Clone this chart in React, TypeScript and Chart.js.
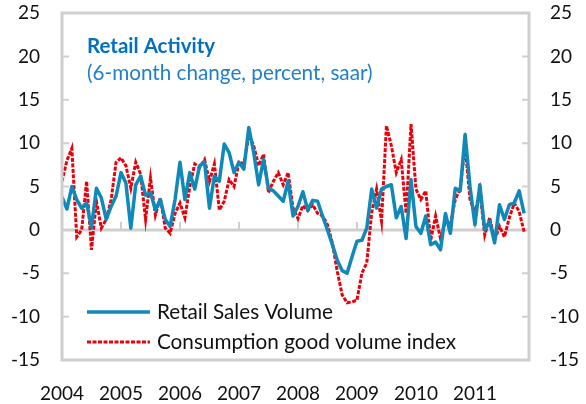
import React, { useEffect, useRef } from "react";
import { Chart, registerables } from "chart.js";

Chart.register(...registerables);

// Monthly observations, Jan 2004 onwards
const retailSalesVolume: number[] = [
  3.8, 2.4, 5.0, 3.5, 2.5, 3.1, 0.3, 4.8, 3.7, 1.2, 2.7, 3.9,
  6.6, 5.4, 0.2, 5.2, 6.2, 4.0, 4.3, 2.3, 3.5, 1.2, 0.4, 3.5,
  7.8, 3.5, 6.6, 4.7, 7.4, 7.8, 2.5, 6.2, 5.6, 9.9, 8.9, 6.6,
  7.8, 7.0, 11.8, 8.9, 5.2, 8.1, 4.8, 4.5, 3.9, 3.3, 5.6, 1.6,
  2.7, 4.4, 2.3, 3.4, 3.3, 1.6, 0.0, -1.7, -3.5, -4.7, -5.0, -3.1,
  -1.3, -1.2, 0.2, 4.7, 2.5, 4.7, 5.0, 5.2, 1.4, 2.7, -1.0, 5.8,
  0.4, -0.4, 1.6, -1.7, -1.4, -2.3, 1.9, -0.4, 4.8, 4.5, 11.0, 5.0,
  0.6, 5.2, 0.0, 1.0, -1.5, 2.9, 1.2, 2.9, 3.1, 4.5, 1.9,
];

const consumptionGoodVolume: number[] = [
  5.6, 8.0, 9.4, -0.8, 0.0, 5.6, -2.3, 3.3, 0.2, 1.2, 3.5, 7.8,
  8.3, 7.4, 4.8, 7.8, 6.4, 1.2, 6.0, 1.7, 3.7, 0.2, -0.4, 1.9,
  3.1, 1.4, 5.0, 7.6, 7.2, 8.1, 5.6, 7.6, 2.3, 3.3, 5.8, 5.0,
  7.8, 7.6, 10.9, 9.7, 7.4, 8.7, 4.3, 5.6, 6.6, 5.2, 6.6, 2.5,
  1.3, 2.8, 2.2, 2.9, 1.9, 1.6, 0.6, -1.5, -4.8, -7.5, -8.4, -8.3,
  -8.1, -5.0, -3.8, 2.0, 4.7, 1.0, 12.0, 9.7, 6.6, 8.1, 1.9, 12.2,
  4.7, 3.5, 4.5, -1.2, 1.6, -1.0, 1.0, 0.6, 3.5, 4.7, 9.7, 3.5,
  1.9, 4.5, -0.6, 1.4, -1.2, 0.4, -0.8, 1.4, 3.1, 2.1, -0.2,
];

const yearLabels: string[] = ["2004", "2005", "2006", "2007", "2008", "2009", "2010", "2011"];
const yTicks: number[] = [-15, -10, -5, 0, 5, 10, 15, 20, 25];

const seriesNames = ["Retail Sales Volume", "Consumption good volume index"];
const titleText = "Retail Activity";
const subtitleText = "(6-month change, percent, saar)";

const FONT = "Lato, 'Open Sans', sans-serif";
const GRID = "#cfcfcf";

const noPad = (s: any) => {
  s.paddingTop = 0;
  s.paddingBottom = 0;
  s.paddingLeft = 0;
  s.paddingRight = 0;
};

const decorPlugin = {
  id: "decor",
  beforeDatasetsDraw(chart: any) {
    const { ctx, chartArea, scales } = chart;
    const { left, right } = chartArea;
    const y = scales.y;
    const x = scales.x;
    ctx.save();
    ctx.strokeStyle = GRID;
    ctx.lineWidth = 2;
    yTicks.forEach((v) => {
      const py = y.getPixelForValue(v);
      ctx.beginPath();
      ctx.moveTo(left, py);
      ctx.lineTo(left + 7, py);
      ctx.moveTo(right, py);
      ctx.lineTo(right - 7, py);
      ctx.stroke();
    });
    const p0 = y.getPixelForValue(0);
    ctx.lineWidth = 3;
    ctx.beginPath();
    ctx.moveTo(left, p0);
    ctx.lineTo(right, p0);
    ctx.stroke();
    ctx.lineWidth = 2;
    x.ticks.forEach((t: any) => {
      const px = x.getPixelForValue(t.value);
      ctx.beginPath();
      ctx.moveTo(px, p0);
      ctx.lineTo(px, p0 - 8);
      ctx.stroke();
    });
    ctx.restore();
  },
  afterDatasetsDraw(chart: any) {
    const { ctx, chartArea } = chart;
    const { left, top, right, bottom } = chartArea;
    ctx.save();
    // frame
    ctx.strokeStyle = GRID;
    ctx.lineWidth = 3;
    ctx.strokeRect(left, top, right - left, bottom - top);

    // title
    ctx.textBaseline = "middle";
    ctx.textAlign = "left";
    ctx.fillStyle = "#0070c0";
    ctx.font = `bold 20.5px ${FONT}`;
    ctx.fillText(titleText, left + 25, top + 33);
    ctx.fillStyle = "#1f7fc8";
    ctx.font = `20.7px ${FONT}`;
    ctx.fillText(subtitleText, left + 25, top + 60);

    // legend
    const rows = [top + 299, top + 329];
    chart.data.datasets.forEach((ds: any, i: number) => {
      const ly = rows[i];
      ctx.strokeStyle = ds.borderColor;
      ctx.lineWidth = ds.borderWidth;
      ctx.setLineDash(ds.borderDash || []);
      ctx.beginPath();
      ctx.moveTo(left + 25, ly);
      ctx.lineTo(left + 88, ly);
      ctx.stroke();
      ctx.setLineDash([]);
      ctx.fillStyle = "#111";
      ctx.font = `20.7px ${FONT}`;
      ctx.fillText(ds.label, left + 95, ly);
    });
    ctx.restore();
  },
};

export default function App() {
  const ref = useRef<HTMLCanvasElement | null>(null);

  useEffect(() => {
    if (!ref.current) return;
    const tickFont = { family: FONT, size: 19 };
    const chart = new Chart(ref.current, {
      type: "line",
      data: {
        datasets: [
          {
            label: seriesNames[0],
            data: retailSalesVolume.map((v, i) => ({ x: i, y: v })),
            borderColor: "#1088b8",
            borderWidth: 3.5,
            pointRadius: 0,
            tension: 0,
            borderJoinStyle: "round",
          },
          {
            label: seriesNames[1],
            data: consumptionGoodVolume.map((v, i) => ({ x: i, y: v })),
            borderColor: "#e8000b",
            borderWidth: 3,
            borderDash: [4, 1.5],
            pointRadius: 0,
            tension: 0,
          },
        ],
      },
      options: {
        responsive: false,
        animation: false,
        layout: { padding: { top: 13, left: 0, right: 0, bottom: 0 } },
        plugins: { legend: { display: false }, tooltip: { enabled: false } },
        scales: {
          x: {
            type: "linear",
            min: 0,
            max: 95,
            border: { display: false },
            grid: { display: false, drawTicks: false },
            afterBuildTicks: (s: any) => {
              s.ticks = yearLabels.map((_, i) => ({ value: i * 12 }));
            },
            afterFit: (s: any) => {
              s.height = 44;
              noPad(s);
            },
            ticks: {
              autoSkip: false,
              maxRotation: 0,
              padding: 22,
              color: "#111",
              font: tickFont,
              callback: (v: any) => yearLabels[Math.round(Number(v) / 12)] ?? "",
            },
          },
          y: {
            position: "left",
            min: -15,
            max: 25,
            border: { display: false },
            grid: { display: false, drawTicks: false },
            afterBuildTicks: (s: any) => {
              s.ticks = yTicks.map((v) => ({ value: v }));
            },
            afterFit: (s: any) => {
              s.width = 62;
              noPad(s);
            },
            ticks: { padding: 22, color: "#111", font: tickFont },
          },
          y2: {
            position: "right",
            min: -15,
            max: 25,
            border: { display: false },
            grid: { display: false, drawTicks: false },
            afterBuildTicks: (s: any) => {
              s.ticks = yTicks.map((v) => ({ value: v }));
            },
            afterFit: (s: any) => {
              s.width = 57;
              noPad(s);
            },
            ticks: { padding: 21, color: "#111", font: tickFont },
          },
        },
      },
      plugins: [decorPlugin],
    } as any);
    return () => chart.destroy();
  }, []);

  return (
    <div style={{ position: "fixed", left: 0, top: 0, width: 586, height: 404, background: "#fff" }}>
      <canvas ref={ref} width={586} height={404} />
    </div>
  );
}
